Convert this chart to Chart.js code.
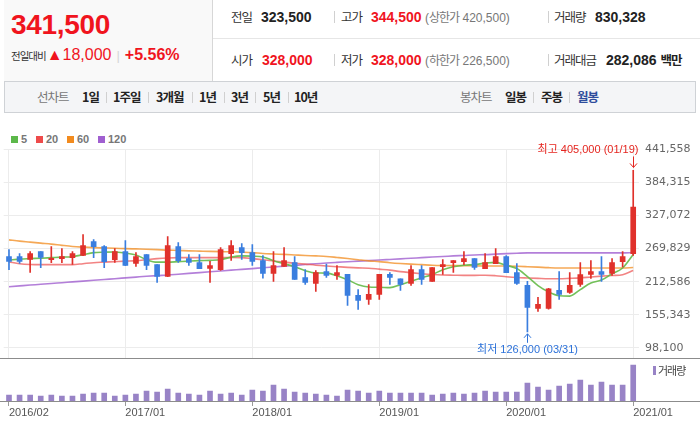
<!DOCTYPE html>
<html>
<head>
<meta charset="utf-8">
<script src="https://cdn.jsdelivr.net/npm/chart.js@4.4.1/dist/chart.umd.min.js"></script>
<style>
body{margin:0;width:700px;height:433px;overflow:hidden;background:#fff;position:relative;
  font-family:"Liberation Sans","Noto Sans CJK KR",sans-serif;color:#333}
.abs{position:absolute;white-space:nowrap}
.ko{font-family:"Noto Sans CJK KR",sans-serif;letter-spacing:-1px}
.num{font-family:"Liberation Sans",sans-serif;font-weight:bold}
.red{color:#f0141e}
.sep{position:absolute;width:1px;background:#d0d0d0}
#box{position:absolute;left:4px;top:0;width:208px;height:81px;background:#f9f9f9;border-right:1px solid #d7d7d7}
#tabs{position:absolute;left:4px;top:81px;width:690px;height:30px;background:#f4f5f7;border:1px solid #cfd2d6}
.row1{top:8px;line-height:18px;font-size:12.5px}
.row2{top:51px;line-height:18px;font-size:12.5px}
.tab{top:89px;line-height:16px;font-size:12.5px}
.lg{top:133px;line-height:13px;font-size:11px;font-weight:bold;color:#777}
.sq{position:absolute;top:136px;width:7px;height:7px}
canvas{position:absolute;left:0}
</style>
</head>
<body>
<div id="box"></div>
<div class="abs num red" style="left:11px;top:11px;font-size:28px;line-height:28px;letter-spacing:-0.3px">341,500</div>
<div class="abs" style="left:11px;top:45px;line-height:20px">
  <span class="ko" style="font-size:10.5px;color:#333">전일대비</span><span class="red" style="font-size:16px;margin-left:1px">▲</span><span class="red" style="font-size:16px">18,000</span><span style="color:#d5d5d5;font-size:13px;margin:0 5px">|</span><span class="num red" style="font-size:16px">+5.56%</span>
</div>
<div class="abs" style="left:213px;top:38px;width:487px;height:1px;background:#e6e6e6"></div>

<div class="abs row1 ko" style="left:231px">전일</div>
<div class="abs row1 num" style="left:261px;font-size:14px;color:#222">323,500</div>
<div class="sep" style="left:334px;top:11px;height:12px"></div>
<div class="abs row1 ko" style="left:341px">고가</div>
<div class="abs row1 num red" style="left:371px;font-size:14px">344,500</div>
<div class="abs row1" style="left:425px;font-size:12px;color:#777">(<span class="ko">상한가</span> 420,500)</div>
<div class="sep" style="left:548px;top:11px;height:12px"></div>
<div class="abs row1 ko" style="left:554px">거래량</div>
<div class="abs row1 num" style="left:595px;font-size:14px;color:#222">830,328</div>

<div class="abs row2 ko" style="left:231px">시가</div>
<div class="abs row2 num red" style="left:262px;font-size:14px">328,000</div>
<div class="sep" style="left:334px;top:54px;height:12px"></div>
<div class="abs row2 ko" style="left:341px">저가</div>
<div class="abs row2 num red" style="left:371px;font-size:14px">328,000</div>
<div class="abs row2" style="left:425px;font-size:12px;color:#777">(<span class="ko">하한가</span> 226,500)</div>
<div class="sep" style="left:548px;top:54px;height:12px"></div>
<div class="abs row2 ko" style="left:554px">거래대금</div>
<div class="abs row2 num" style="left:606px;font-size:14px;color:#222">282,086 <span class="ko" style="font-size:12.5px">백만</span></div>

<div id="tabs"></div>
<div class="abs tab ko" style="left:37px;color:#777">선차트</div>
<div class="abs tab ko" style="left:82px;font-weight:bold;color:#222">1일</div>
<div class="sep" style="left:106px;top:92px;height:11px"></div>
<div class="abs tab ko" style="left:113px;font-weight:bold;color:#222">1주일</div>
<div class="sep" style="left:148px;top:92px;height:11px"></div>
<div class="abs tab ko" style="left:156px;font-weight:bold;color:#222">3개월</div>
<div class="sep" style="left:192px;top:92px;height:11px"></div>
<div class="abs tab ko" style="left:199px;font-weight:bold;color:#222">1년</div>
<div class="sep" style="left:224px;top:92px;height:11px"></div>
<div class="abs tab ko" style="left:231px;font-weight:bold;color:#222">3년</div>
<div class="sep" style="left:255px;top:92px;height:11px"></div>
<div class="abs tab ko" style="left:263px;font-weight:bold;color:#222">5년</div>
<div class="sep" style="left:288px;top:92px;height:11px"></div>
<div class="abs tab ko" style="left:294px;font-weight:bold;color:#222">10년</div>
<div class="abs tab ko" style="left:460px;color:#777">봉차트</div>
<div class="abs tab ko" style="left:505px;font-weight:bold;color:#222">일봉</div>
<div class="sep" style="left:533px;top:92px;height:11px"></div>
<div class="abs tab ko" style="left:541px;font-weight:bold;color:#222">주봉</div>
<div class="sep" style="left:569px;top:92px;height:11px"></div>
<div class="abs tab ko" style="left:577px;font-weight:bold;color:#2e4d9c">월봉</div>

<div class="sq" style="left:11px;background:#5cb84a"></div><div class="abs lg" style="left:21px">5</div>
<div class="sq" style="left:36px;background:#ee4b4b"></div><div class="abs lg" style="left:46px">20</div>
<div class="sq" style="left:67px;background:#f28b1e"></div><div class="abs lg" style="left:77px">60</div>
<div class="sq" style="left:98px;background:#a05fd0"></div><div class="abs lg" style="left:108px">120</div>

<canvas id="priceChart" width="700" height="228" style="top:130px"></canvas>
<canvas id="volChart" width="700" height="75" style="top:358px"></canvas>
<div class="abs" style="left:0;top:358px;width:700px;height:1px;background:#8c8c8c"></div>
<div class="abs" style="left:0;top:401px;width:700px;height:1px;background:#8c8c8c"></div>
<div class="abs" style="left:653px;top:366px;width:3px;height:9px;background:#9883c6"></div>
<div class="abs ko" style="left:658px;top:363px;font-size:11px;line-height:14px;color:#444">거래량</div>

<script>
const months = ['2016/02','2016/03','2016/04','2016/05','2016/06','2016/07','2016/08','2016/09','2016/10','2016/11','2016/12',
  '2017/01','2017/02','2017/03','2017/04','2017/05','2017/06','2017/07','2017/08','2017/09','2017/10','2017/11','2017/12',
  '2018/01','2018/02','2018/03','2018/04','2018/05','2018/06','2018/07','2018/08','2018/09','2018/10','2018/11','2018/12',
  '2019/01','2019/02','2019/03','2019/04','2019/05','2019/06','2019/07','2019/08','2019/09','2019/10','2019/11','2019/12',
  '2020/01','2020/02','2020/03','2020/04','2020/05','2020/06','2020/07','2020/08','2020/09','2020/10','2020/11','2020/12',
  '2021/01'];
const tickLabels = ['2016/02','2017/01','2018/01','2019/01','2020/01','2021/01'];
const priceTicks = [98100,155343,212586,269829,327072,384315,441558];

const opens = [256000,256000,251300,264600,250700,252500,254200,258200,281900,273300,
  250700,264600,244300,259400,242100,221800,273300,252500,245600,235700,
  233500,261200,271500,262900,249000,227000,239100,245600,219600,209700,
  230000,223600,225300,188900,182000,190600,225300,217800,209700,233500,
  213200,238600,245500,247300,252500,235200,243800,255900,228200,206200,
  166400,166400,197600,194100,208000,225300,230000,227000,247300,261200];
const highs = [268100,261200,264600,264600,273300,269800,264600,294000,285400,275000,
  269800,283700,262900,259400,242100,290600,280200,259400,259400,247800,
  271500,283700,278500,276800,257700,264600,271500,255900,233500,231700,
  243300,240400,225300,198800,207500,225300,228200,217800,240400,240400,
  236900,250700,249000,264600,252500,261200,269800,257700,243800,213200,
  185500,201000,230000,228200,245600,249000,255900,252500,264600,405000];
const lows = [233500,244300,228800,236900,245600,245600,242600,257700,254200,236900,
  246100,240400,239100,233500,211400,221300,246100,240900,235200,211400,
  232200,249500,251300,240900,218900,213200,239100,216600,208000,195800,
  220100,216600,171600,164700,173300,182000,208000,197600,206200,208000,
  213200,225300,228800,242100,233900,235200,243800,228200,208000,126000,
  161200,165000,182000,192400,204500,218400,213200,223600,238100,258000];
const closes = [247800,247800,261200,254700,253000,255900,261200,275000,273300,247300,
  264600,240900,255900,240900,221800,275000,249000,246100,235200,240400,
  268100,275000,262900,247800,227000,240400,249000,216600,211400,228200,
  223600,228200,188900,180300,190600,225300,220100,208000,233500,216600,
  236900,242100,249000,252500,237400,245600,255900,228200,209700,168100,
  173300,200300,190600,206200,224800,230000,225300,245600,255900,341500];

const ma5 = [250200,251600,252500,253300,254200,255100,255900,259400,262900,263700,
  264100,262000,258900,250700,246400,246400,247300,248200,249000,249500,
  250700,255100,257200,256800,255400,249000,243800,238600,231700,227700,
  227400,223000,216100,207500,203500,203100,202300,207500,213500,219600,
  224800,233500,238600,241200,242100,244700,246100,241000,235400,221500,
  206000,195000,188400,187700,199000,210400,215400,226400,236300,259700];
const ma20 = [246800,243800,242400,242100,242100,242100,242100,243800,245500,246400,
  247300,248200,249000,250700,252500,253700,254200,254200,254200,254200,
  254200,254600,254200,252500,250700,248500,246400,244700,243000,241200,
  239800,238600,237400,236500,236000,234300,232600,230000,228200,226500,
  225100,224200,223900,223600,223600,223900,223000,221300,219900,219100,
  218400,217800,217800,218400,219200,220800,222200,223400,224800,232000];
const ma60 = [284900,282800,281100,279300,277600,275500,273600,272400,271500,271000,
  270500,269800,269300,268800,268100,267200,266700,266000,265500,265000,
  264600,264300,263700,262900,261500,260600,259800,258900,258000,257200,
  256300,254600,252800,250700,248700,247300,245500,244100,243000,242100,
  241200,240700,240400,240400,240000,239800,239800,239700,239300,238600,
  237800,236900,236400,236400,236400,236400,236400,236400,236400,237200];
const ma120 = [204000,205400,206800,208100,209500,210900,212300,213700,215100,216500,
  217800,219200,220600,222000,223200,224200,225600,227000,228400,229800,
  231200,232600,233900,235300,236700,238100,239500,240900,242300,243600,
  245000,246100,247100,248200,249000,250100,251100,252100,253200,254200,
  255300,256100,257200,258000,258900,259400,260300,261100,261800,262400,
  262400,262400,262400,262400,262400,262400,262400,262400,262400,263000];

// 월별 거래량 (천주)
const volumes = [3600,3600,3600,3000,3600,3000,3000,4200,4800,4800,
  3000,3600,4200,6000,5400,7200,4800,4200,3600,6000,
  4200,4800,3600,6600,6000,9600,7200,5400,4800,4200,
  3600,3000,6600,6000,4800,6000,4800,4800,4800,4800,
  3600,4200,4800,4200,4800,6000,5400,5400,5400,10800,
  8400,6600,9000,10200,12600,9600,11400,9600,9600,21600];

const hiIndex = 59, hiValue = 405000, hiText = '최고 405,000 (01/19)';
const loIndex = 49, loValue = 126000, loText = '최저 126,000 (03/31)';

const UP = '#e0312b', DOWN = '#3a7edf';
const candleColors = opens.map((o, i) => closes[i] >= o ? UP : DOWN);
const janIdx = tickLabels.map(t => months.indexOf(t));
const axisW = 61.5;

function gridColor(c) {
  return janIdx.includes(c.index) ? '#ececec' : 'rgba(0,0,0,0)';
}

function maLine(label, data, color) {
  return {
    type: 'line', label: label, data: data,
    borderColor: color, borderWidth: 1.6,
    pointRadius: 0, cubicInterpolationMode: 'monotone',
    order: 3
  };
}

function arrow(ctx, x, y1, y2, down) {
  ctx.beginPath();
  ctx.moveTo(x, y1);
  ctx.lineTo(x, y2);
  let tip = down ? y2 : y1;
  let d = down ? -4 : 4;
  ctx.moveTo(x - 3.5, tip + d);
  ctx.lineTo(x, tip);
  ctx.lineTo(x + 3.5, tip + d);
  ctx.stroke();
}

const markers = {
  id: 'markers',
  afterDatasetsDraw(chart) {
    const {ctx, scales} = chart;
    ctx.save();
    ctx.lineWidth = 1;
    ctx.font = '11px "Liberation Sans", "Noto Sans CJK KR"';
    ctx.textBaseline = 'middle';

    let px = Math.round(scales.x.getPixelForValue(hiIndex)) + 0.5;
    let py = scales.y.getPixelForValue(hiValue);
    ctx.strokeStyle = ctx.fillStyle = '#e5251f';
    arrow(ctx, px, py - 14, py - 3, true);
    ctx.textAlign = 'right';
    ctx.fillText(hiText, px + 5, py - 20);

    px = Math.round(scales.x.getPixelForValue(loIndex)) + 0.5;
    py = scales.y.getPixelForValue(loValue);
    ctx.strokeStyle = ctx.fillStyle = '#2d72d9';
    arrow(ctx, px, py + 2, py + 11, false);
    ctx.textAlign = 'center';
    ctx.fillText(loText, px, py + 18);
    ctx.restore();
  }
};

Chart.defaults.font.family = '"Liberation Sans", "Noto Sans CJK KR", sans-serif';

new Chart(document.getElementById('priceChart'), {
  type: 'bar',
  data: {
    labels: months,
    datasets: [
      {
        label: 'body', data: opens.map((o, i) => [o, closes[i]]),
        backgroundColor: candleColors, barThickness: 5, minBarLength: 1,
        grouped: false, order: 1
      },
      {
        label: 'wick', data: lows.map((l, i) => [l, highs[i]]),
        backgroundColor: candleColors, barThickness: 1,
        grouped: false, order: 2
      },
      maLine('5', ma5, 'rgba(100,186,72,0.9)'),
      maLine('20', ma20, 'rgba(238,90,90,0.75)'),
      maLine('60', ma60, 'rgba(242,139,30,0.75)'),
      maLine('120', ma120, 'rgba(160,95,208,0.8)')
    ]
  },
  options: {
    responsive: false,
    animation: false,
    events: [],
    layout: { padding: { left: 3.7, top: 19.3, right: 0, bottom: 0 } },
    plugins: { legend: { display: false }, tooltip: { enabled: false } },
    scales: {
      x: {
        offset: true,
        grid: { offset: false, color: gridColor, drawTicks: false },
        border: { display: false },
        ticks: { display: false },
        afterFit(s) { s.height = 0; }
      },
      y: {
        position: 'right',
        min: 80700, max: 441558,
        afterBuildTicks(s) { s.ticks = priceTicks.map(v => ({ value: v })); },
        afterFit(s) { s.width = axisW; s.paddingTop = 0; s.paddingBottom = 0; },
        grid: { color: '#ececec', drawTicks: false },
        border: { display: false },
        ticks: {
          padding: 6.5, color: '#666',
          font: { family: '"DejaVu Sans"', size: 11 },
          callback: v => v.toLocaleString('en-US')
        }
      }
    }
  },
  plugins: [markers]
});

new Chart(document.getElementById('volChart'), {
  type: 'bar',
  data: {
    labels: months,
    datasets: [{
      label: '거래량', data: volumes,
      backgroundColor: '#9883c6', barThickness: 5
    }]
  },
  options: {
    responsive: false,
    animation: false,
    events: [],
    layout: { padding: { left: 3.7, top: 3, right: 0, bottom: 0 } },
    plugins: { legend: { display: false }, tooltip: { enabled: false } },
    scales: {
      x: {
        offset: true,
        grid: {
          offset: false, drawOnChartArea: false, drawTicks: true, tickLength: 5,
          color: c => janIdx.includes(c.index) ? '#9a9a9a' : 'rgba(0,0,0,0)'
        },
        border: { display: false },
        ticks: {
          autoSkip: false, maxRotation: 0, align: 'start', padding: 0,
          color: '#555', font: { size: 11 },
          callback: (v, i) => tickLabels.includes(months[i]) ? months[i] : ''
        },
        afterFit(s) { s.height = 32; }
      },
      y: {
        position: 'right',
        min: 0, max: 24000,
        grid: { display: false },
        border: { display: false },
        ticks: { display: false },
        afterFit(s) { s.width = axisW; s.paddingTop = 0; s.paddingBottom = 0; }
      }
    }
  }
});
</script>
</body>
</html>
